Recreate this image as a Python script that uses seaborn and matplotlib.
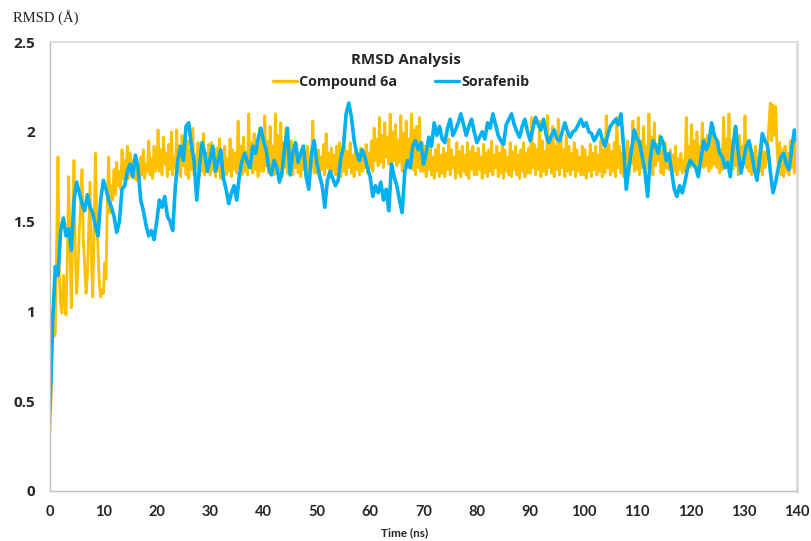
import numpy as np
import pandas as pd
import matplotlib
matplotlib.use("Agg")
import matplotlib.pyplot as plt
import seaborn as sns

# ---------------- data ----------------
STEP_6A_NS = 0.25
STEP_SORA_NS = 0.5

compound_6a = [
    0.33, 0.60, 1.00, 0.86, 0.88, 1.40, 1.86, 1.20, 1.03, 0.99, 1.20, 1.05, 0.98, 1.30, 1.75, 1.35, 1.02, 1.50, 1.84, 1.30,
    1.10, 1.25, 1.45, 1.60, 1.79, 1.40, 1.25, 1.10, 1.19, 1.45, 1.72, 1.30, 1.08, 1.40, 1.88, 1.55, 1.34, 1.15, 1.08, 1.12,
    1.10, 1.27, 1.18, 1.62, 1.86, 1.55, 1.70, 1.62, 1.79, 1.65, 1.83, 1.70, 1.78, 1.68, 1.90, 1.74, 1.84, 1.76, 1.92, 1.74,
    1.88, 1.76, 1.84, 1.74, 1.86, 1.73, 1.80, 1.75, 1.86, 1.76, 1.90, 1.74, 1.82, 1.78, 1.95, 1.76, 1.85, 1.74, 1.92, 1.78,
    1.80, 2.01, 1.78, 1.90, 1.76, 1.97, 1.82, 1.88, 1.75, 1.93, 1.79, 2.00, 1.76, 1.86, 1.80, 2.01, 1.77, 1.92, 1.75, 1.98,
    1.81, 1.89, 1.76, 1.95, 1.74, 1.90, 1.79, 2.02, 1.76, 1.87, 1.80, 1.94, 1.75, 1.91, 1.78, 1.99, 1.76, 1.88, 1.79, 1.93,
    1.76, 1.94, 1.79, 1.86, 1.75, 1.91, 1.78, 1.96, 1.74, 1.88, 1.80, 1.92, 1.76, 1.85, 1.78, 1.96, 1.75, 1.90, 1.79, 1.88,
    1.77, 2.06, 1.80, 1.92, 1.76, 1.97, 1.78, 1.89, 1.76, 2.10, 1.80, 1.94, 1.77, 1.99, 1.79, 1.90, 1.75, 2.02, 1.78, 1.95,
    1.78, 2.09, 1.81, 1.95, 1.77, 2.03, 1.80, 1.92, 1.76, 2.10, 1.82, 1.98, 1.78, 2.05, 1.75, 1.94, 1.80, 2.02, 1.77, 1.91,
    1.79, 1.95, 1.76, 1.88, 1.80, 1.93, 1.77, 1.86, 1.75, 1.91, 1.79, 1.88, 1.76, 1.92, 1.78, 1.85, 1.80, 2.06, 1.77, 1.90,
    1.77, 1.90, 1.74, 1.86, 1.79, 1.93, 1.76, 1.99, 1.80, 1.88, 1.75, 1.91, 1.78, 1.87, 1.76, 1.92, 1.79, 1.94, 1.75, 1.86,
    1.78, 1.92, 1.76, 1.89, 1.80, 1.94, 1.77, 1.87, 1.75, 1.90, 1.79, 1.88, 1.76, 1.91, 1.78, 1.85, 1.80, 1.93, 1.77, 1.88,
    1.80, 1.95, 1.78, 2.02, 1.84, 1.96, 1.81, 2.08, 1.83, 1.98, 1.80, 2.05, 1.86, 1.97, 1.82, 2.10, 1.79, 2.00, 1.84, 2.04,
    1.81, 1.95, 1.83, 2.09, 1.78, 1.99, 1.82, 2.06, 1.80, 1.96, 1.84, 2.10, 1.79, 2.01, 1.76, 2.03, 1.80, 2.08, 1.78, 1.94,
    1.78, 1.92, 1.75, 1.88, 1.79, 1.95, 1.76, 1.86, 1.74, 1.90, 1.78, 1.93, 1.75, 1.87, 1.77, 1.91, 1.75, 1.88, 1.79, 1.96,
    1.76, 1.90, 1.80, 1.86, 1.74, 1.94, 1.77, 1.89, 1.75, 1.92, 1.78, 1.87, 1.76, 1.94, 1.74, 1.89, 1.79, 1.92, 1.76, 1.88,
    1.76, 1.91, 1.79, 1.86, 1.74, 1.93, 1.77, 1.88, 1.75, 1.90, 1.78, 1.95, 1.76, 1.87, 1.80, 1.92, 1.75, 1.88, 1.77, 1.93,
    1.74, 1.90, 1.78, 1.86, 1.76, 1.94, 1.75, 1.89, 1.79, 1.92, 1.76, 1.87, 1.74, 1.90, 1.78, 1.94, 1.75, 1.88, 1.77, 1.91,
    1.77, 2.08, 1.80, 1.93, 1.76, 1.90, 1.79, 2.06, 1.75, 1.95, 1.78, 1.89, 1.76, 2.09, 1.80, 1.94, 1.77, 2.03, 1.75, 1.92,
    1.79, 2.07, 1.76, 1.96, 1.80, 1.90, 1.75, 1.98, 1.78, 1.92, 1.76, 1.88, 1.79, 1.94, 1.75, 1.90, 1.78, 1.86, 1.76, 1.92,
    1.76, 1.90, 1.74, 1.86, 1.78, 1.93, 1.75, 1.88, 1.79, 1.92, 1.76, 1.87, 1.78, 1.95, 1.75, 1.90, 1.77, 2.09, 1.80, 1.93,
    1.76, 1.89, 1.78, 1.94, 1.75, 2.08, 1.80, 1.92, 1.77, 1.88, 1.75, 1.90, 1.79, 1.95, 1.76, 1.91, 1.82, 2.06, 1.78, 1.96,
    1.79, 2.08, 1.76, 1.95, 1.80, 2.03, 1.77, 1.92, 1.80, 2.10, 1.78, 1.97, 1.76, 2.05, 1.81, 1.93, 1.84, 1.98, 1.77, 1.90,
    1.76, 1.94, 1.80, 1.86, 1.79, 1.90, 1.77, 1.87, 1.78, 1.92, 1.76, 1.85, 1.79, 1.88, 1.77, 1.84, 1.78, 2.08, 1.80, 1.92,
    1.80, 2.04, 1.83, 1.95, 1.81, 2.00, 1.79, 1.92, 1.82, 2.05, 1.80, 1.96, 1.81, 1.98, 1.78, 1.93, 1.80, 2.03, 1.82, 1.94,
    1.80, 1.95, 1.77, 1.90, 1.79, 2.08, 1.82, 1.96, 1.80, 2.10, 1.83, 1.95, 1.79, 2.02, 1.81, 1.93, 1.76, 1.98, 1.80, 1.92,
    1.82, 2.09, 1.80, 1.92, 1.78, 1.90, 1.76, 1.88, 1.80, 1.92, 1.75, 1.86, 1.78, 1.93, 1.76, 1.89, 1.80, 1.88, 1.92, 2.05,
    2.16, 1.95, 2.15, 1.98, 2.14, 1.92, 1.80, 1.94, 1.76, 1.90, 1.75, 1.92, 1.78, 1.88, 1.76, 1.95, 1.80, 1.90, 1.77, 1.95,
    1.90,
]

sorafenib = [
    0.45, 0.95, 1.25, 1.20, 1.45, 1.52, 1.42, 1.46, 1.34, 1.62, 1.72, 1.66, 1.60, 1.56, 1.65, 1.58, 1.55, 1.48, 1.42, 1.62,
    1.73, 1.68, 1.62, 1.58, 1.53, 1.44, 1.50, 1.68, 1.70, 1.78, 1.82, 1.75, 1.87, 1.80, 1.62, 1.56, 1.48, 1.42, 1.45, 1.40,
    1.50, 1.62, 1.58, 1.64, 1.53, 1.50, 1.45, 1.70, 1.85, 1.92, 1.84, 2.03, 2.05, 1.92, 1.84, 1.62, 1.80, 1.94, 1.88, 1.78,
    1.85, 1.92, 1.78, 1.84, 1.90, 1.74, 1.68, 1.60, 1.66, 1.70, 1.62, 1.76, 1.84, 1.88, 1.83, 1.80, 1.92, 1.88, 1.96, 2.02,
    1.95, 1.90, 1.80, 1.76, 1.84, 1.80, 1.72, 1.78, 1.92, 2.02, 1.76, 1.88, 1.94, 1.83, 1.88, 1.92, 1.75, 1.68, 1.88, 1.95,
    1.83, 1.76, 1.70, 1.58, 1.73, 1.78, 1.74, 1.70, 1.73, 1.85, 1.92, 2.10, 2.16, 2.08, 1.95, 1.88, 1.84, 1.90, 1.86, 1.80,
    1.75, 1.64, 1.70, 1.66, 1.72, 1.62, 1.68, 1.56, 1.82, 1.75, 1.70, 1.62, 1.55, 1.78, 1.84, 1.80, 1.92, 1.95, 1.90, 1.94,
    1.82, 1.88, 1.97, 1.92, 2.05, 1.98, 2.03, 1.96, 1.94, 2.02, 2.07, 1.98, 2.01, 2.05, 2.10, 2.04, 1.98, 2.03, 2.07, 2.00,
    1.94, 1.97, 2.00, 1.96, 2.05, 2.02, 2.10, 2.04, 1.98, 1.95, 1.93, 2.04, 2.07, 2.10, 2.04, 2.00, 1.97, 2.03, 2.07, 2.00,
    1.95, 2.02, 2.08, 2.04, 2.01, 2.07, 1.98, 1.94, 1.98, 2.01, 1.96, 1.95, 2.00, 2.05, 2.00, 1.97, 2.00, 2.01, 2.04, 2.07,
    2.03, 2.05, 2.00, 1.99, 1.95, 1.98, 2.01, 1.96, 1.92, 1.98, 2.03, 2.05, 2.07, 2.04, 2.10, 1.92, 1.68, 1.80, 1.90, 2.01,
    1.96, 1.94, 1.86, 1.78, 1.64, 1.85, 1.95, 1.92, 1.88, 1.97, 1.93, 1.84, 1.88, 1.78, 1.68, 1.64, 1.70, 1.66, 1.72, 1.80,
    1.84, 1.82, 1.80, 1.75, 1.85, 1.95, 1.90, 1.94, 2.05, 1.98, 1.95, 1.88, 1.86, 1.80, 1.83, 1.75, 1.92, 2.03, 1.88, 1.77,
    1.84, 1.92, 1.95, 1.88, 1.79, 1.73, 1.85, 1.99, 1.95, 1.92, 1.78, 1.66, 1.72, 1.80, 1.86, 1.88, 1.82, 1.79, 1.90, 2.01,
    1.95,
]

series_names = ["Compound 6a", "Sorafenib"]
series_colors = ["#FFC000", "#00B0F0"]
x_ticks = [0, 10, 20, 30, 40, 50, 60, 70, 80, 90, 100, 110, 120, 130, 140]
y_ticks = [0, 0.5, 1, 1.5, 2, 2.5]
y_tick_labels = ["0", "0.5", "1", "1.5", "2", "2.5"]

# ---------------- build long-form table ----------------
frames = []
for name, vals, step in zip(series_names, [compound_6a, sorafenib], [STEP_6A_NS, STEP_SORA_NS]):
    t = np.arange(len(vals)) * step
    frames.append(pd.DataFrame({"Time": t, "RMSD": vals, "Series": name}))
df = pd.concat(frames, ignore_index=True)

# ---------------- plot ----------------
sns.set_theme(style="white")
plt.rcParams["font.family"] = ["DejaVu Sans"]

W, H = 811, 541
fig = plt.figure(figsize=(W / 100, H / 100), dpi=100)
ax = fig.add_axes([50 / W, 1 - 491 / H, (797 - 50) / W, (491 - 42) / H])

sns.lineplot(data=df[df["Series"] == series_names[0]], x="Time", y="RMSD",
             color=series_colors[0], linewidth=2.0, ax=ax, legend=False,
             estimator=None, sort=False)
sns.lineplot(data=df[df["Series"] == series_names[1]], x="Time", y="RMSD",
             color=series_colors[1], linewidth=2.6, ax=ax, legend=False,
             estimator=None, sort=False)

ax.set_xlim(0, 140)
ax.set_ylim(0, 2.5)
ax.set_xticks(x_ticks)
ax.set_yticks(y_ticks)
ax.set_yticklabels(y_tick_labels)
ax.set_xlabel("")
ax.set_ylabel("")

for side in ["left", "bottom"]:
    ax.spines[side].set_color("#BFBFBF")
    ax.spines[side].set_linewidth(1.0)
ax.spines["top"].set_color("#D9D9D9")
ax.spines["top"].set_linewidth(1.2)
ax.spines["right"].set_color("#D9D9D9")
ax.spines["right"].set_linewidth(2.0)

ax.tick_params(axis="x", direction="in", length=6, width=1, color="#BFBFBF",
               pad=10, labelsize=10.5)
ax.tick_params(axis="y", direction="out", length=5, width=1, color="#BFBFBF",
               pad=6, labelsize=11)
for lab in ax.get_xticklabels():
    lab.set_fontweight("bold")
    lab.set_family(["Lato", "DejaVu Sans"])
for lab in ax.get_yticklabels():
    lab.set_fontweight("bold")
    lab.set_family(["Open Sans", "DejaVu Sans"])

# axis labels
fig.text(13 / W, 1 - 18 / H, "RMSD (Å)", ha="left", va="center", fontsize=10.5,
         family=["Liberation Serif", "DejaVu Serif"], color="#222222")
fig.text(405 / W, 1 - 533 / H, "Time (ns)", ha="center", va="center", fontsize=8.5,
         fontweight="bold", family=["Lato", "DejaVu Sans"])

# title + legend
fig.text(406 / W, 1 - 60 / H, "RMSD Analysis", ha="center", va="center",
         fontsize=10.8, fontweight="bold", family=["Open Sans", "DejaVu Sans"])
handles = [plt.Line2D([], [], color=c, lw=2.4) for c in series_colors]
leg = fig.legend(handles, series_names, loc="center", ncol=2,
                 bbox_to_anchor=(401 / W, 1 - 82 / H), frameon=False,
                 handlelength=1.7, handletextpad=0.15, columnspacing=2.6,
                 prop={"family": ["Open Sans", "DejaVu Sans"], "weight": "bold", "size": 10.3})

fig.savefig("out.png", dpi=100, facecolor="white")
